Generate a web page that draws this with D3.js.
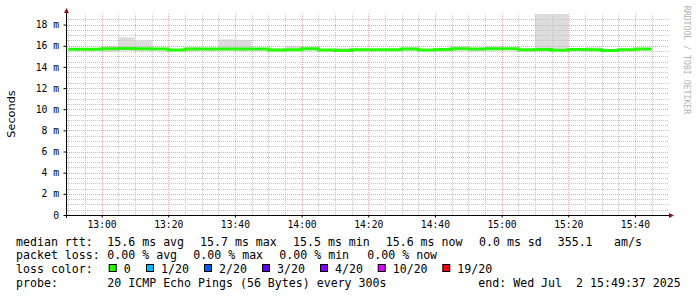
<!DOCTYPE html>
<html>
<head>
<meta charset="utf-8">
<script src="https://cdn.jsdelivr.net/npm/d3@7"></script>
<style>
  html, body { margin: 0; padding: 0; background: #fff; }
  svg { display: block; }
  text { font-family: "DejaVu Sans Mono", monospace; }
</style>
</head>
<body>
<div id="chart"></div>
<script>
// ---- data ----
// 5 minute steps, each value covers (t - 5min, t]
const stepEnds = [
  "12:55","13:00","13:05","13:10","13:15","13:20","13:25","13:30","13:35","13:40",
  "13:45","13:50","13:55","14:00","14:05","14:10","14:15","14:20","14:25","14:30",
  "14:35","14:40","14:45","14:50","14:55","15:00","15:05","15:10","15:15","15:20",
  "15:25","15:30","15:35","15:40","15:45"
];
const rttMedian = [
  15.66,15.66,15.72,15.74,15.72,15.70,15.60,15.68,15.68,15.70,
  15.70,15.70,15.60,15.62,15.72,15.60,15.56,15.62,15.62,15.62,
  15.68,15.60,15.64,15.72,15.68,15.72,15.72,15.62,15.64,15.58,
  15.64,15.62,15.55,15.62,15.68
];
const rttMin = [
  15.55,15.50,15.40,15.50,15.50,15.60,15.50,15.50,15.50,15.55,
  15.50,15.55,15.45,15.50,15.55,15.50,15.45,15.50,15.55,15.50,
  15.55,15.50,15.45,15.55,15.45,15.55,15.60,15.45,15.45,15.50,
  15.55,15.55,15.45,15.55,15.55
];
const rttMax = [
  15.75,15.75,16.00,16.80,16.50,15.80,15.70,15.85,15.75,16.60,
  16.55,15.80,15.75,16.00,15.90,15.70,15.80,15.80,15.70,15.70,
  15.85,15.70,15.70,15.95,15.75,15.95,15.80,15.70,19.50,19.50,
  15.70,15.85,15.65,15.70,15.75
];
const yTicks = [0, 2, 4, 6, 8, 10, 12, 14, 16, 18];
const lossLabels = ["0", "1/20", "2/20", "3/20", "4/20", "10/20", "19/20"];
const lossColors = ["#26ff00", "#00b8ff", "#0059ff", "#5e00ff", "#7e00ff", "#dd00ff", "#ff0000"];

const W = 697, H = 297;
const plot = { left: 67, right: 667, top: 14, bottom: 215 };
const col = {
  minor: "#c4c4c4",
  major: "#e8a6a6",
  smoke: "#dcdcdc",
  axis: "#000",
  arrow: "#8b1010",
  text: "#000",
  median: "#26ff00"
};

const parseT = d3.utcParse("%Y-%m-%d %H:%M:%S");
const day = "2025-07-02 ";
const tStart = parseT(day + "12:49:37");
const tEnd = parseT(day + "15:49:37");

const x = d3.scaleUtc().domain([tStart, tEnd]).range([plot.left, plot.right]);
const y = d3.scaleLinear().domain([0, 19]).range([plot.bottom, plot.top]);

const steps = stepEnds.map((s, i) => {
  const t1 = parseT(day + s + ":00");
  return { t0: new Date(+t1 - 300000), t1: t1, med: rttMedian[i], lo: rttMin[i], hi: rttMax[i] };
});

const svg = d3.select("#chart").append("svg").attr("width", W).attr("height", H);

svg.append("defs").append("clipPath").attr("id", "plotclip")
  .append("rect")
  .attr("x", plot.left).attr("y", plot.top)
  .attr("width", plot.right - plot.left).attr("height", plot.bottom - plot.top);

// minor grid
const grid = svg.append("g").attr("shape-rendering", "crispEdges");
const minorY = d3.range(0.5, 19, 0.5).filter(v => v % 2 !== 0);
grid.selectAll(".hmin").data(minorY).enter().append("line")
  .attr("x1", plot.left).attr("x2", plot.right + 1)
  .attr("y1", d => Math.round(y(d)) + 0.5).attr("y2", d => Math.round(y(d)) + 0.5)
  .attr("stroke", col.minor).attr("stroke-dasharray", "1,1");
const minorX = d3.utcMinute.every(5).range(tStart, tEnd).filter(d => d.getUTCMinutes() % 20 !== 0);
grid.selectAll(".vmin").data(minorX).enter().append("line")
  .attr("x1", d => Math.round(x(d)) + 0.5).attr("x2", d => Math.round(x(d)) + 0.5)
  .attr("y1", plot.top).attr("y2", plot.bottom)
  .attr("stroke", col.minor).attr("stroke-dasharray", "1,1");

// smoke
const g = svg.append("g").attr("clip-path", "url(#plotclip)");
g.selectAll(".smoke").data(steps).enter().append("rect")
  .attr("x", d => x(d.t0)).attr("width", d => x(d.t1) - x(d.t0))
  .attr("y", d => y(d.hi)).attr("height", d => y(d.lo) - y(d.hi))
  .attr("fill", col.smoke);

// grid drawn over smoke
grid.raise();
const majorX = d3.utcMinute.every(20).range(tStart, tEnd);
grid.selectAll(".hmaj").data(yTicks.filter(v => v > 0)).enter().append("line")
  .attr("x1", plot.left).attr("x2", plot.right + 1)
  .attr("y1", d => Math.round(y(d)) + 0.5).attr("y2", d => Math.round(y(d)) + 0.5)
  .attr("stroke", col.major).attr("stroke-dasharray", "1,1");
grid.selectAll(".vmaj").data(majorX).enter().append("line")
  .attr("x1", d => Math.round(x(d)) + 0.5).attr("x2", d => Math.round(x(d)) + 0.5)
  .attr("y1", plot.top).attr("y2", plot.bottom)
  .attr("stroke", col.major).attr("stroke-dasharray", "1,1");

// median line
const medPts = steps.map(d => [d.t0, d.med]).concat([[steps[steps.length - 1].t1, rttMedian[rttMedian.length - 1]]]);
svg.append("g").attr("clip-path", "url(#plotclip)").append("path")
  .datum(medPts)
  .attr("d", d3.line().x(d => x(d[0])).y(d => y(d[1])).curve(d3.curveStepAfter))
  .attr("fill", "none").attr("stroke", col.median).attr("stroke-width", 3);

// axes
const yAxis = d3.axisLeft(y).tickValues(yTicks).tickSize(3).tickPadding(5)
  .tickFormat(d => d === 0 ? "0" : d + " m");
const ya = svg.append("g").attr("transform", `translate(${plot.left - 0.5},0)`).call(yAxis);
ya.select(".domain").remove();
ya.selectAll("text").style("font-size", "9.7px").attr("fill", col.text).attr("x", -7.5);

const xAxis = d3.axisBottom(x).tickValues(majorX).tickSize(2).tickPadding(3.6)
  .tickFormat(d3.utcFormat("%H:%M"));
const xa = svg.append("g").attr("transform", `translate(0,${plot.bottom + 0.5})`).call(xAxis);
xa.select(".domain").remove();
xa.selectAll("text").style("font-size", "9.7px").attr("fill", col.text);

// axis lines + arrows
svg.append("line").attr("x1", plot.left - 0.5).attr("x2", plot.left - 0.5)
  .attr("y1", plot.bottom + 3).attr("y2", 10).attr("stroke", col.axis);
svg.append("line").attr("x1", plot.left - 3).attr("x2", 670)
  .attr("y1", plot.bottom + 0.5).attr("y2", plot.bottom + 0.5).attr("stroke", col.axis);
svg.append("path").attr("d", `M${plot.left - 3},13 L${plot.left - 0.5},8 L${plot.left + 2},13 Z`)
  .attr("fill", col.arrow);
svg.append("path").attr("d", `M669,${plot.bottom - 2} L674,${plot.bottom + 0.5} L669,${plot.bottom + 3} Z`)
  .attr("fill", col.arrow);

// titles
svg.append("text").attr("transform", "translate(15,114) rotate(-90)")
  .attr("text-anchor", "middle").style("font-family", "DejaVu Sans")
  .style("font-size", "11.3px").attr("fill", col.text).text("Seconds");
svg.append("text").attr("transform", "translate(684,60) rotate(90)")
  .attr("text-anchor", "middle").style("font-size", "8.2px")
  .attr("fill", "#b4b4b4").text("RRDTOOL / TOBI OETIKER");

// legend
const fs = "11.6px";
function row(yb, parts) {
  const t = svg.append("text").attr("y", yb).style("font-size", fs).attr("fill", col.text)
    .attr("xml:space", "preserve");
  parts.forEach(p => t.append("tspan").attr("x", p[0]).text(p[1]));
}
row(245.7, [[16, "median rtt:"], [107.3, "15.6 ms avg"], [200, "15.7 ms max"], [293, "15.5 ms min"],
  [385.7, "15.6 ms now"], [479, "0.0 ms sd"], [557.7, "355.1"], [614, "am/s"]]);
row(259.3, [[16, "packet loss:"], [107.3, "0.00 % avg"], [193.3, "0.00 % max"], [279.3, "0.00 % min"],
  [367.3, "0.00 % now"]]);
row(273, [[16, "loss color:"]]);
const boxX = [108.7, 146, 204, 262, 320, 377.7, 442.3];
const lg = svg.append("g");
lg.selectAll("rect").data(lossColors).enter().append("rect")
  .attr("x", (d, i) => boxX[i] + 0.5).attr("y", 264.5).attr("width", 7).attr("height", 7)
  .attr("fill", d => d).attr("stroke", "#000").attr("stroke-width", 1);
lg.selectAll("text").data(lossLabels).enter().append("text")
  .attr("x", (d, i) => boxX[i] + 15).attr("y", 273).style("font-size", fs).attr("fill", col.text)
  .text(d => d);
row(286.7, [[16, "probe:"], [107.3, "20 ICMP Echo Pings (56 Bytes) every 300s"],
  [478.3, "end: Wed Jul  2 15:49:37 2025"]]);
</script>
</body>
</html>
